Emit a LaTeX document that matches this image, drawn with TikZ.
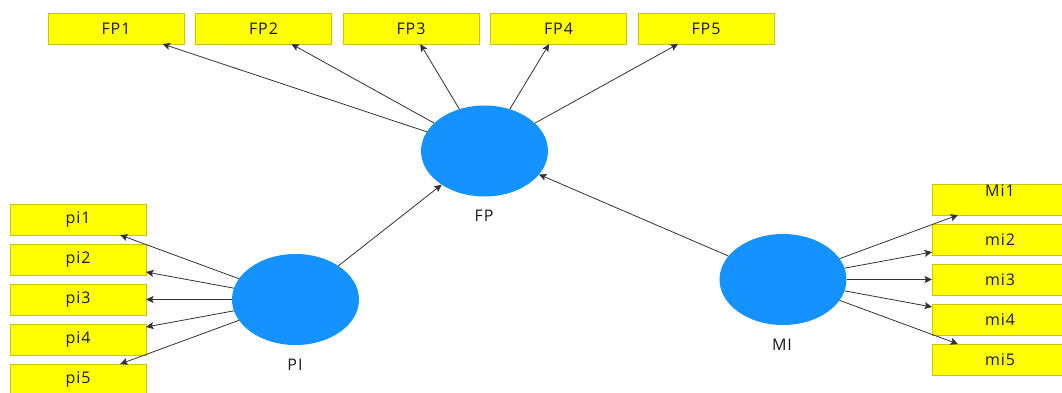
\documentclass[tikz,border=0pt]{standalone}
\usepackage{fontspec}
\setmainfont{Open Sans}[LetterSpace=6]
\usetikzlibrary{shapes.geometric,arrows.meta}
\definecolor{latblue}{RGB}{20,146,255}
\definecolor{indyel}{RGB}{255,255,0}
\definecolor{indbord}{RGB}{204,196,0}
\definecolor{arrcol}{RGB}{50,50,50}
\definecolor{txtcol}{RGB}{25,25,25}
\begin{document}
\begin{tikzpicture}[x=1pt,y=-1pt,
  ind/.style={draw=indbord,line width=1pt,fill=indyel,minimum width=136pt,minimum height=31pt,inner sep=0pt,outer sep=0pt,text=txtcol,font=\fontsize{16}{19}\selectfont},
  lat/.style={ellipse,fill=latblue,minimum width=127pt,minimum height=91pt,inner sep=0pt,outer sep=0pt},
  lbl/.style={font=\fontsize{16}{19}\selectfont,text=txtcol},
  con/.style={draw=arrcol,line width=0.8pt,-{Stealth[length=7.5pt,width=7pt,inset=1.5pt]}}]
\useasboundingbox (0,0) rectangle (1062,392);
\clip (0,0) rectangle (1062,392);
% latent variables
\node[lat] (FP) at (484.5,151) {};
\node[lat] (PI) at (295.5,299.5) {};
\node[lat] (MI) at (783,279.5) {};
\node[lbl] (FPl) at (484,216) {FP};
\node[lbl] (PIl) at (295,365) {PI};
\node[lbl] (MIl) at (782,345) {MI};
% FP indicators
\node[ind] (FP1) at (116,28.5) {FP1};
\node[ind] (FP2) at (263.5,28.5) {FP2};
\node[ind] (FP3) at (411,28.5) {FP3};
\node[ind] (FP4) at (558.5,28.5) {FP4};
\node[ind] (FP5) at (706,28.5) {FP5};
% PI indicators
\node[ind] (pi1) at (78,219.5) {pi1};
\node[ind] (pi2) at (78,259.5) {pi2};
\node[ind] (pi3) at (78,299.5) {pi3};
\node[ind] (pi4) at (78,339.5) {pi4};
\node[ind] (pi5) at (78,379.5) {pi5};
% MI indicators
\node[ind,label={[lbl,yshift=8.5pt]center:Mi1}] (Mi1) at (1000,199.5) {};
\node[ind] (mi2) at (1000,239.5) {mi2};
\node[ind] (mi3) at (1000,279.5) {mi3};
\node[ind] (mi4) at (1000,319.5) {mi4};
\node[ind] (mi5) at (1000,359.5) {mi5};
% connectors
\foreach \t in {FP1,FP2,FP3,FP4,FP5} \draw[con] (FP) -- (\t);
\foreach \t in {pi1,pi2,pi3,pi4,pi5} \draw[con] (PI) -- (\t);
\foreach \t in {Mi1,mi2,mi3,mi4,mi5} \draw[con] (MI) -- (\t);
\draw[con] (PI) -- (FP);
\draw[con] (MI) -- (FP);
\end{tikzpicture}
\end{document}
